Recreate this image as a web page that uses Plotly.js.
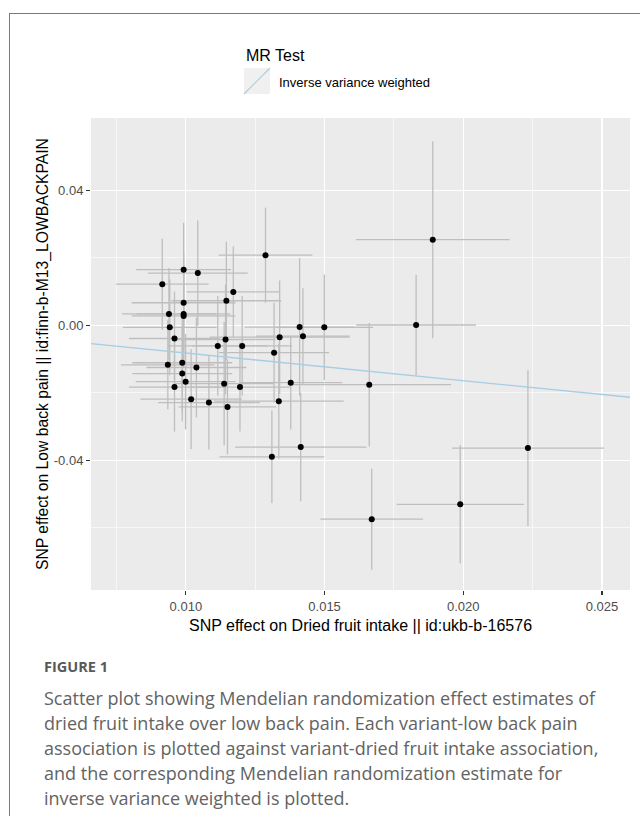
<!DOCTYPE html>
<html><head><meta charset="utf-8">
<script src="https://cdn.plot.ly/plotly-3.0.1.min.js"></script>
<style>
html,body{margin:0;padding:0;background:#fff;overflow:hidden;}
#chart{width:640px;height:816px;}
#frame{position:absolute;left:9px;top:13px;width:640px;height:820px;border-left:1.5px solid #7a7a7a;border-top:1.5px solid #7a7a7a;pointer-events:none;}
</style>
</head><body><div id="chart"></div><div id="frame"></div>
<script>
// SNP effect on exposure (Dried fruit intake)
const snpExposure = [0.00915,0.00992,0.01043,0.01287,0.01171,0.01146,0.00939,0.00992,0.00992,0.00992,
  0.00942,0.01410,0.01499,0.00959,0.01143,0.01338,0.01422,0.01115,0.01203,0.01318,
  0.00935,0.00987,0.01038,0.00987,0.00999,0.00959,0.01138,0.01195,0.01378,0.01019,
  0.01083,0.01150,0.01335,0.01414,0.01310,0.01661,0.01830,0.01890,0.02233,0.01989,0.01670];
// SNP effect on outcome (Low back pain)
const snpOutcome = [0.0122,0.0165,0.0155,0.0208,0.0099,0.0073,0.0034,0.0067,0.0034,0.0028,
  -0.0006,-0.0005,-0.0006,-0.0039,-0.0042,-0.0035,-0.0032,-0.0061,-0.0061,-0.0081,
  -0.0117,-0.0111,-0.0125,-0.0143,-0.0167,-0.0183,-0.0173,-0.0183,-0.0170,-0.0219,
  -0.0229,-0.0242,-0.0225,-0.0361,-0.0390,-0.0176,0.0001,0.0254,-0.0364,-0.0531,-0.0575];
const seExposure = [0.00167,0.00171,0.00180,0.00169,0.00168,0.00198,0.00169,0.00187,0.00169,0.00187,
  0.00169,0.00198,0.00176,0.00164,0.00180,0.00252,0.00169,0.00180,0.00180,0.00198,
  0.00169,0.00180,0.00180,0.00180,0.00180,0.00164,0.00180,0.00180,0.00186,0.00183,
  0.00183,0.00176,0.00234,0.00237,0.00189,0.00295,0.00216,0.00277,0.00274,0.00229,0.00185];
const seOutcome = [0.0135,0.0139,0.0156,0.0141,0.0135,0.0175,0.0136,0.0148,0.0142,0.0154,
  0.0142,0.0204,0.0157,0.0139,0.0163,0.0168,0.0142,0.0148,0.0148,0.0148,
  0.0132,0.0148,0.0148,0.0142,0.0142,0.0132,0.0183,0.0132,0.0139,0.0148,
  0.0139,0.0141,0.0171,0.0161,0.0138,0.0183,0.0148,0.0292,0.0231,0.0175,0.0150];
// IVW estimate (slope through origin)
const ivwSlope = -0.82;
const xTickVals = [0.010,0.015,0.020,0.025];
const xTickText = ['0.010','0.015','0.020','0.025'];
const yTickVals = [-0.04,0.00,0.04];
const yTickText = ['-0.04','0.00','0.04'];
const xRange = [0.00658,0.02601];
const yRange = [-0.0785,0.0615];

const captionLines = [
  'Scatter plot showing Mendelian randomization effect estimates of',
  'dried fruit intake over low back pain. Each variant-low back pain',
  'association is plotted against variant-dried fruit intake association,',
  'and the corresponding Mendelian randomization estimate for',
  'inverse variance weighted is plotted.'
];

const F = '"Liberation Sans", Arial, sans-serif';
const CF = '"Open Sans", "Noto Sans", sans-serif';

const points = {
  type:'scatter', mode:'markers', x:snpExposure, y:snpOutcome,
  marker:{color:'#000', size:6},
  error_x:{type:'data', array:seExposure, visible:true, color:'#bebebe', thickness:1.3, width:0},
  error_y:{type:'data', array:seOutcome, visible:true, color:'#bebebe', thickness:1.3, width:0},
  showlegend:false, hoverinfo:'x+y'
};
const ivw = {
  type:'scatter', mode:'lines', x:xRange, y:xRange.map(v=>ivwSlope*v),
  line:{color:'#a6cee3', width:1.3}, showlegend:false, name:'Inverse variance weighted'
};

// helper: pixel -> paper
const L=91, R=630, T=118, B=590;
const px = v => (v-L)/(R-L);
const py = v => (B-v)/(B-T);

const annotations = [
  {text:'MR Test', xref:'paper', yref:'paper', x:px(244), y:py(55), xanchor:'left', yanchor:'middle', showarrow:false, font:{family:F, size:16, color:'#000'}},
  {text:'Inverse variance weighted', xref:'paper', yref:'paper', x:px(277), y:py(82), xanchor:'left', yanchor:'middle', showarrow:false, font:{family:F, size:13, color:'#000'}},
  {text:'SNP effect on Dried fruit intake || id:ukb-b-16576', xref:'paper', yref:'paper', x:0.5, y:py(625), xanchor:'center', yanchor:'middle', showarrow:false, font:{family:F, size:16, color:'#000'}},
  {text:'SNP effect on Low back pain || id:finn-b-M13_LOWBACKPAIN', xref:'paper', yref:'paper', x:px(43), y:0.5, textangle:-90, xanchor:'center', yanchor:'middle', showarrow:false, font:{family:F, size:15.7, color:'#000'}},
  {text:'<b>FIGURE 1</b>', xref:'paper', yref:'paper', x:px(42), y:py(666), xanchor:'left', yanchor:'middle', showarrow:false, font:{family:CF, size:14.5, color:'#595959'}}
];
captionLines.forEach((t,i)=>{
  annotations.push({text:t, xref:'paper', yref:'paper', x:px(42), y:py(698+i*25), xanchor:'left', yanchor:'middle', showarrow:false, font:{family:CF, size:18, color:'#636363'}});
});

const shapes = [
  {type:'rect', xref:'paper', yref:'paper', x0:px(244), x1:px(270), y0:py(94), y1:py(68), fillcolor:'#f0f0f0', line:{width:0}, layer:'above'},
  {type:'line', xref:'paper', yref:'paper', x0:px(244), x1:px(270), y0:py(94), y1:py(68), line:{color:'#a6cee3', width:1.1}, layer:'above'}
];

const axisCommon = {
  showgrid:true, gridcolor:'#ffffff', gridwidth:1.2, zeroline:false, showline:false,
  ticks:'outside', ticklen:4, tickwidth:1.1, tickcolor:'#333333',
  tickfont:{family:F, size:13, color:'#4d4d4d'}, fixedrange:true
};

const layout = {
  width:640, height:816,
  margin:{l:L, r:640-R, t:T, b:816-B},
  paper_bgcolor:'rgba(0,0,0,0)', plot_bgcolor:'#ebebeb',
  xaxis:Object.assign({}, axisCommon, {range:xRange, tickmode:'array', tickvals:xTickVals, ticktext:xTickText,
    minor:{tickvals:[0.0075,0.0125,0.0175,0.0225], showgrid:true, gridcolor:'#ffffff', gridwidth:0.6, ticks:''}}),
  yaxis:Object.assign({}, axisCommon, {range:yRange, tickmode:'array', tickvals:yTickVals, ticktext:yTickText,
    minor:{tickvals:[-0.06,-0.02,0.02], showgrid:true, gridcolor:'#ffffff', gridwidth:0.6, ticks:''}}),
  annotations:annotations, shapes:shapes, showlegend:false
};

Plotly.newPlot('chart', [points, ivw], layout, {displayModeBar:false, staticPlot:true});
</script>
</body></html>
